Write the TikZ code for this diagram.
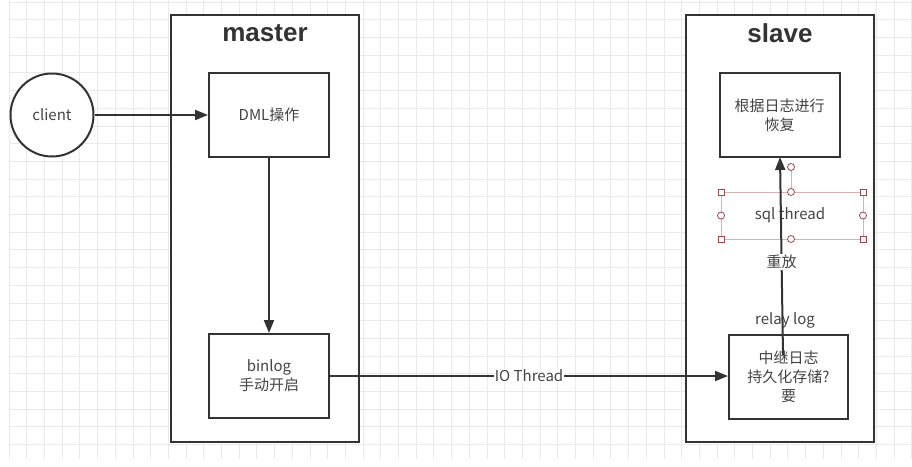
\documentclass[tikz,border=0pt]{standalone}
\usepackage{fontspec}
\setmainfont{Noto Sans CJK SC}
\newfontfamily\titlefont{Liberation Sans}
\usetikzlibrary{arrows.meta}
\definecolor{gridc}{HTML}{EAEAEA}
\definecolor{linec}{HTML}{333333}
\definecolor{txtc}{HTML}{444444}
\definecolor{handc}{HTML}{A0464B}
\definecolor{handl}{HTML}{D9AFAF}
\tikzset{
  box/.style={draw=linec, line width=2pt, fill=white, minimum width=120pt, minimum height=84pt, align=center, text=txtc, font=\fontsize{15}{19}\selectfont, inner sep=0pt},
  frame/.style={draw=linec, line width=2pt, fill=white},
  ttl/.style={font=\titlefont\bfseries\fontsize{26}{28}\selectfont, text=linec},
  conn/.style={draw=linec, line width=2pt, -{Triangle[length=13pt,width=10pt]}},
  lbl/.style={fill=white, text=txtc, font=\fontsize{15}{17}\selectfont, inner sep=1pt},
  hsq/.style={draw=handc, fill=white, line width=0.8pt, minimum size=6pt, inner sep=0pt},
  hci/.style={draw=handc, fill=white, line width=0.8pt, circle, minimum size=7pt, inner sep=0pt}
}
\begin{document}
\begin{tikzpicture}[x=1pt,y=-1pt]
\useasboundingbox (0,0) rectangle (912,466);
\fill[white] (0,0) rectangle (912,466);
% grid
\foreach \i in {0,...,51} {\draw[gridc, line width=0.8pt] ({9+17.7*\i},0) -- ({9+17.7*\i},459);}
\foreach \j in {0,...,25} {\draw[gridc, line width=0.8pt] (9,{2+17.7*\j}) -- (912,{2+17.7*\j});}
% frames
\draw[frame] (171,15) rectangle (359,442);
\draw[frame] (686,15) rectangle (874,442);
\node[ttl] (mt) at (265,33) {master};
\node[ttl] (st) at (780,33) {slave};
% nodes
\node[draw=linec, line width=2pt, fill=white, circle, minimum size=83pt, inner sep=0pt, text=txtc, font=\fontsize{15}{19}\selectfont] (client) at (52,115) {client};
\node[box] (dml) at (269,115) {DML操作};
\node[box] (binlog) at (269,376) {binlog\\手动开启};
\node[box] (rec) at (779.5,115) {根据日志进行\\恢复};
\node[box, minimum width=119pt] (relay) at (788.5,377) {中继日志\\持久化存储?\\要};
\node[lbl, fill=none] (rlbl) at (785,320) {relay log};
% sql thread selection
\node[text=txtc, font=\fontsize{15}{17}\selectfont] (sql) at (790,215) {sql thread};
\coordinate (s1) at (721,192);
\coordinate (s2) at (863,239);
\draw[handl, line width=0.8pt] (s1) rectangle (s2);
% connectors
\draw[conn] (client) -- (dml);
\draw[conn] (dml) -- (binlog);
\draw[conn] (binlog.east) -- node[lbl] {IO Thread} (binlog.east -| relay.west);
\coordinate (rs) at (783,355);
\draw[conn] (rs) -- node[lbl, pos=0.47] {重放} (780,157);
% handles
\coordinate (rot) at (791,167);
\draw[handl, line width=0.8pt] (rot) -- (791,192);
\node[hci] at (rot) {};
\node[hsq] at (721,192) {};
\node[hsq] at (863,192) {};
\node[hsq] at (721,239) {};
\node[hsq] at (863,239) {};
\node[hci] at (791,192) {};
\node[hci] at (791,239) {};
\node[hci] at (721,215.5) {};
\node[hci] at (863,215.5) {};
\end{tikzpicture}
\end{document}
